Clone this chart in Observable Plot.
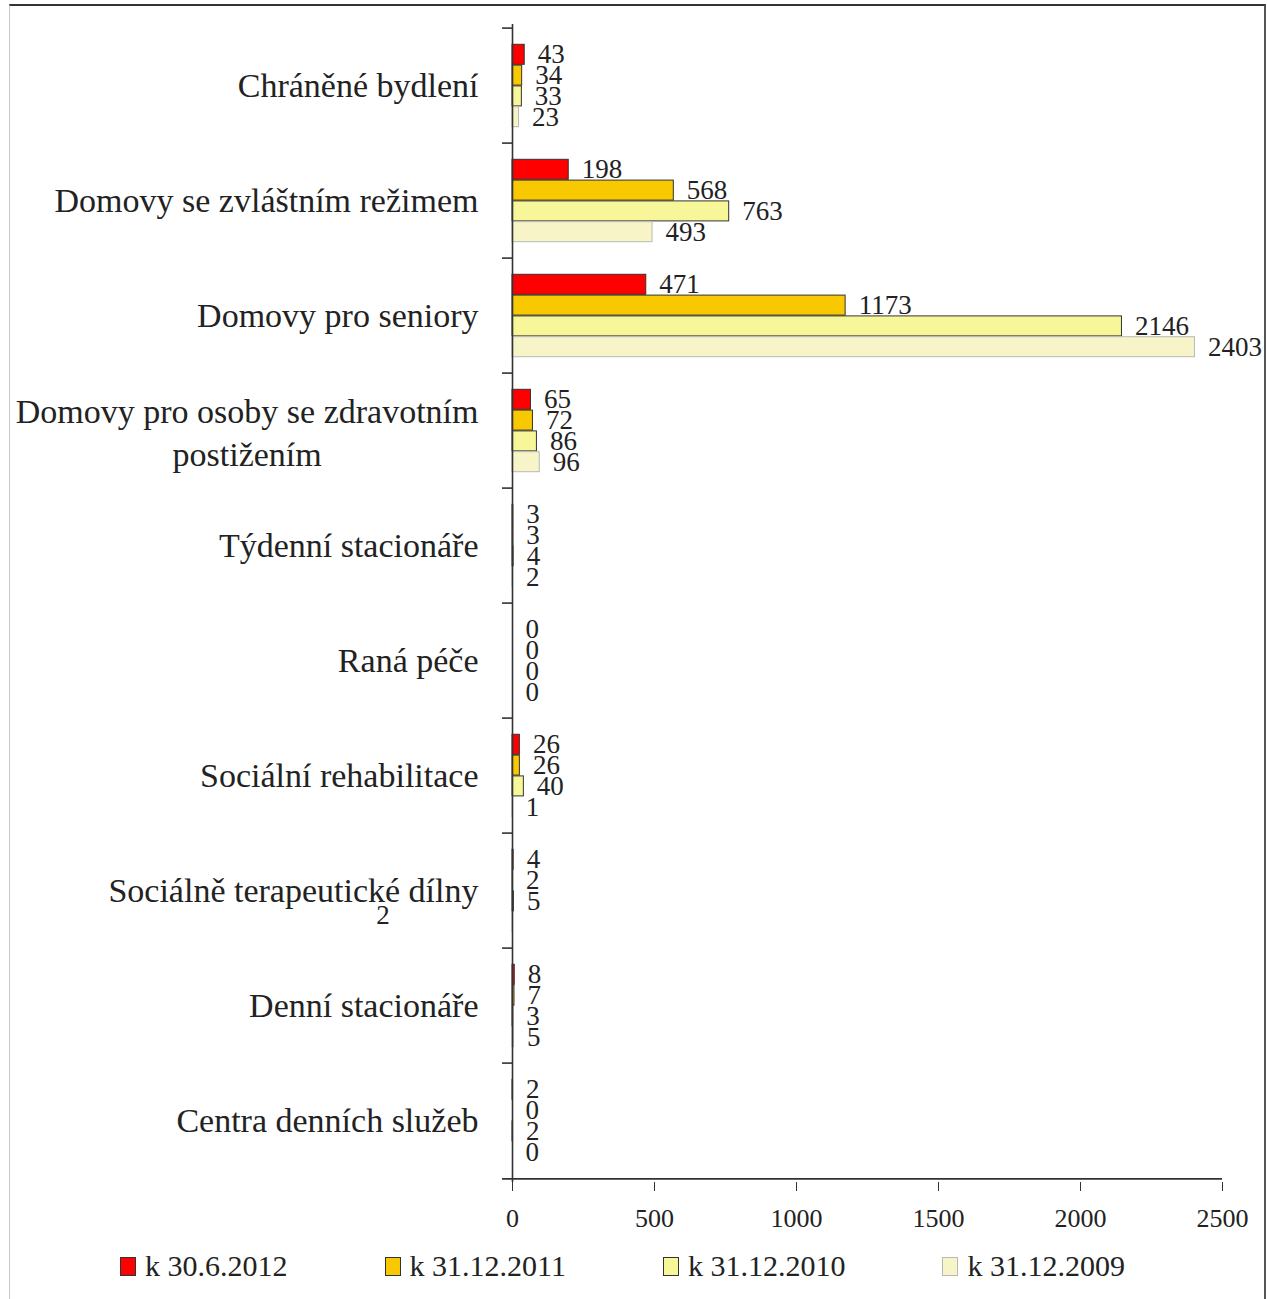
<!DOCTYPE html>
<html>
<head>
<meta charset="utf-8">
<script src="https://cdn.jsdelivr.net/npm/d3@7"></script>
<script src="https://cdn.jsdelivr.net/npm/@observablehq/plot@0.6"></script>
<style>
  body { margin: 0; background: #fff; }
  #page { position: relative; width: 1268px; height: 1299px; overflow: hidden; font-family: "Liberation Serif", serif; color: #222; }
  #frame { position: absolute; left: 9px; top: 4px; width: 1257px; height: 1310px; border-top: 2px solid #333; border-left: 1px solid #c8c8c8; border-right: 2px solid #555; box-sizing: border-box; }
  #chart { position: absolute; left: 0; top: 0; }
  #legend { position: absolute; left: 120px; top: 1237px; height: 58px; display: flex; align-items: center; gap: 97px; font-size: 30px; }
  .item { display: flex; align-items: center; gap: 9px; white-space: nowrap; }
  .sw { width: 16px; height: 19px; border: 1px solid #333; box-sizing: border-box; }
</style>
</head>
<body>
<div id="page">
  <div id="frame"></div>
  <div id="chart"></div>
  <div id="legend"></div>
</div>
<script>
// Categories of social services (top to bottom)
const categories = [
  "Chráněné bydlení",
  "Domovy se zvláštním režimem",
  "Domovy pro seniory",
  "Domovy pro osoby se zdravotním\npostižením",
  "Týdenní stacionáře",
  "Raná péče",
  "Sociální rehabilitace",
  "Sociálně terapeutické dílny",
  "Denní stacionáře",
  "Centra denních služeb"
];

// Series (reference dates)
const seriesNames = ["k 30.6.2012", "k 31.12.2011", "k 31.12.2010", "k 31.12.2009"];

// Values per series, in category order
const v2012 = [43, 198, 471, 65, 3, 0, 26, 4, 8, 2];
const v2011 = [34, 568, 1173, 72, 3, 0, 26, 2, 7, 0];
const v2010 = [33, 763, 2146, 86, 4, 0, 40, 5, 3, 2];
const v2009 = [23, 493, 2403, 96, 2, 0, 1, 2, 5, 0];

const xTicks = [0, 500, 1000, 1500, 2000, 2500];

const seriesValues = [v2012, v2011, v2010, v2009];
const fills = ["#FF0000", "#F8C800", "#F7F799", "#F7F5C8"];
const strokes = ["#333333", "#333333", "#333333", "#b8b8b8"];

// Layout
const W = 1268, H = 1237;
const mTop = 24, mBottom = 55, mLeft = 512, mRight = 46;
const step = (H - mTop - mBottom) / categories.length;
const barH = 20.8;
const groupOff = (step - 4 * barH) / 2;
const xMax = 2500;
const pxPerUnit = (W - mLeft - mRight) / xMax;
const tickLen = 10 / pxPerUnit;

// Rows per series
const rows = seriesValues.map((vals, s) =>
  categories.map((cat, i) => ({cat, v: vals[i], s}))
);

// The one value label that sits below its category name
const shifted = (d) => d.s === 3 && d.cat === "Sociálně terapeutické dílny";

const marks = [];
rows.forEach((data, s) => {
  marks.push(Plot.barX(data, {
    y: "cat", x: "v",
    fill: fills[s], stroke: strokes[s], strokeWidth: 1,
    insetTop: groupOff + s * barH,
    insetBottom: step - groupOff - (s + 1) * barH
  }));
  marks.push(Plot.text(data.filter(d => !shifted(d)), {
    y: "cat", x: "v", text: d => String(d.v),
    textAnchor: "start", dx: 13, dy: (s - 1.5) * barH,
    fontSize: 27, fill: "#222"
  }));
});
marks.push(Plot.text(rows[3].filter(shifted), {
  y: "cat", x: "v", text: d => String(d.v),
  textAnchor: "middle", dx: -130, dy: 1.5 * barH - 7,
  fontSize: 27, fill: "#222"
}));

// Category labels
const ctx = document.createElement("canvas").getContext("2d");
ctx.font = '34px "Liberation Serif"';
const single = categories.filter(c => !c.includes("\n"));
const multi = categories.filter(c => c.includes("\n"));
marks.push(Plot.text(single, {
  y: d => d, x: () => 0, text: d => d,
  textAnchor: "end", dx: -34, fontSize: 34, fill: "#222"
}));
multi.forEach(c => {
  const w = ctx.measureText(c.split("\n")[0]).width;
  marks.push(Plot.text([c], {
    y: d => d, x: () => 0, text: d => d,
    textAnchor: "middle", dx: -34 - w / 2, lineHeight: 1.24, fontSize: 34, fill: "#222"
  }));
});

// Axes
marks.push(Plot.ruleX([0], {stroke: "#333", strokeWidth: 1.6}));
marks.push(Plot.ruleY(categories, {y: d => d, x1: -tickLen, x2: 0, dy: -step / 2, stroke: "#333", strokeWidth: 1.6}));
marks.push(Plot.ruleY([categories[categories.length - 1]], {y: d => d, x1: -tickLen, x2: xMax, dy: step / 2, stroke: "#333", strokeWidth: 1.6}));
marks.push(Plot.axisX({
  ticks: xTicks, tickFormat: d => String(d), tickSize: 9, tickPadding: 17,
  fontSize: 26, stroke: "#333", fill: "#222", label: null
}));

const chart = Plot.plot({
  width: W, height: H,
  marginTop: mTop, marginBottom: mBottom, marginLeft: mLeft, marginRight: mRight,
  style: {fontFamily: '"Liberation Serif", serif', background: "transparent", overflow: "visible"},
  x: {domain: [0, xMax], axis: null, label: null},
  y: {type: "band", domain: categories, padding: 0, axis: null},
  marks
});
document.getElementById("chart").appendChild(chart);

// Legend
const legend = document.getElementById("legend");
seriesNames.forEach((name, s) => {
  const item = document.createElement("div");
  item.className = "item";
  const sw = document.createElement("div");
  sw.className = "sw";
  sw.style.background = fills[s];
  sw.style.borderColor = s === 3 ? "#b8b8b8" : "#333";
  const label = document.createElement("span");
  label.textContent = name;
  item.append(sw, label);
  legend.appendChild(item);
});
</script>
</body>
</html>
